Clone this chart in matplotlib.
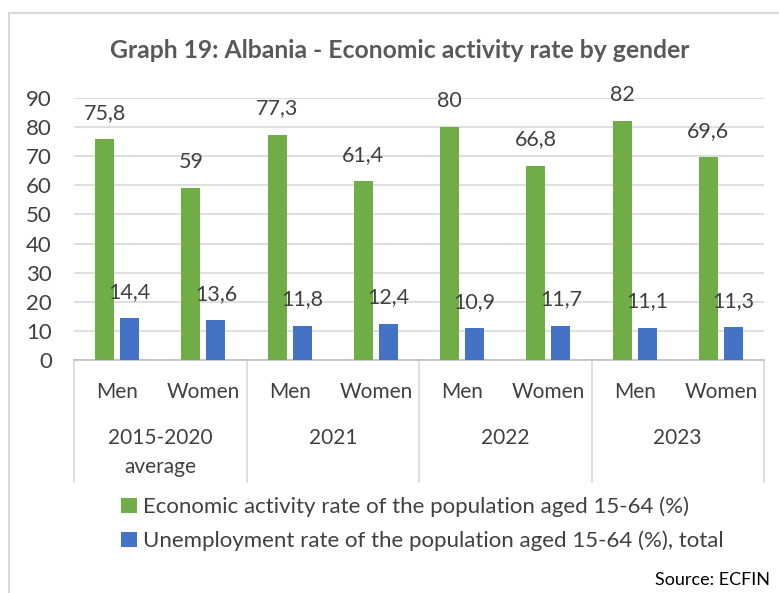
import matplotlib
matplotlib.use("Agg")
import matplotlib.pyplot as plt
from matplotlib.patches import Rectangle

plt.rcParams['font.family'] = ['Lato', 'DejaVu Sans']

title = "Graph 19: Albania - Economic activity rate by gender"
groups = ["2015-2020\naverage", "2021", "2022", "2023"]
genders = ["Men", "Women"]
activity = [75.8, 59, 77.3, 61.4, 80, 66.8, 82, 69.6]
unemployment = [14.4, 13.6, 11.8, 12.4, 10.9, 11.7, 11.1, 11.3]
series_names = ["Economic activity rate of the population aged 15-64 (%)",
                "Unemployment rate of the population aged 15-64 (%), total"]
yticks = [0, 10, 20, 30, 40, 50, 60, 70, 80, 90]
source = "Source: ECFIN"

GREEN = "#70AD47"
BLUE = "#4472C4"
TXT = "#404040"

W, H = 779, 593
fig = plt.figure(figsize=(W / 100, H / 100), dpi=100)

# outer chart border
fig.patches.append(Rectangle((9 / W, -0.1), 2.0, 1 - 13 / H + 0.1, transform=fig.transFigure,
                             fill=False, edgecolor="#d9d9d9", linewidth=1.5))

x0, x1, ytop, ybot = 74, 764, 98, 360
ax = fig.add_axes([x0 / W, 1 - ybot / H, (x1 - x0) / W, (ybot - ytop) / H])


def py(p):
    """pixel y -> axes fraction"""
    return (ybot - p) / (ybot - ytop)


n = len(activity)
xs = list(range(n))
off, bw = 0.145, 0.22
b1 = ax.bar([x - off for x in xs], activity, width=bw, color=GREEN, label=series_names[0], zorder=3)
b2 = ax.bar([x + off for x in xs], unemployment, width=bw, color=BLUE, label=series_names[1], zorder=3)


def fmt(v):
    return f"{v:g}".replace(".", ",")


for bars, vals in ((b1, activity), (b2, unemployment)):
    for r, v in zip(bars, vals):
        ax.annotate(fmt(v), (r.get_x() + r.get_width() / 2, v), xytext=(0, 19),
                    textcoords="offset points", ha="center", va="center",
                    fontsize=15.5, color=TXT, zorder=4)

ax.set_xlim(-0.5, n - 0.5)
ax.set_ylim(0, 90)
ax.set_yticks(yticks)
ax.set_yticklabels([str(t) for t in yticks], fontsize=16, color=TXT)
ax.tick_params(axis="y", length=0, pad=16)
ax.set_xticks([])
for s in ["top", "right", "left"]:
    ax.spines[s].set_visible(False)
ax.spines["bottom"].set_color("#bfbfbf")
ax.spines["bottom"].set_linewidth(1.2)
ax.yaxis.grid(True, color="#d9d9d9", linewidth=1.2, zorder=0)
ax.set_axisbelow(True)

tr = ax.get_xaxis_transform()
# gender labels
for i in xs:
    ax.text(i, py(392), genders[i % 2], transform=tr, ha="center", va="center",
            fontsize=15, color=TXT)
# group labels
for g, name in enumerate(groups):
    for k, ln in enumerate(name.split("\n")):
        ax.text(2 * g + 0.5, py(438 + 29 * k), ln, transform=tr, ha="center", va="center",
                fontsize=15, color=TXT)
# separators
for b in range(len(groups) + 1):
    ax.plot([2 * b - 0.5, 2 * b - 0.5], [0, py(482)], transform=tr, color="#d9d9d9",
            linewidth=1.2, clip_on=False)

fig.text(400 / W, 1 - 51 / H, title, ha="center", va="center", fontsize=17.8,
         fontweight="bold", color="#595959")

leg = fig.legend(handles=[b1, b2], labels=series_names, loc="center left",
                 bbox_to_anchor=(101 / W, 1 - 524 / H), frameon=False, fontsize=16,
                 handlelength=0.7, handleheight=0.7, handletextpad=0.3,
                 labelspacing=0.6)
for t in leg.get_texts():
    t.set_color(TXT)

fig.text(770 / W, 1 - 580 / H, source, ha="right", va="center", fontsize=13, color="black")

fig.savefig("out.png", dpi=100)
